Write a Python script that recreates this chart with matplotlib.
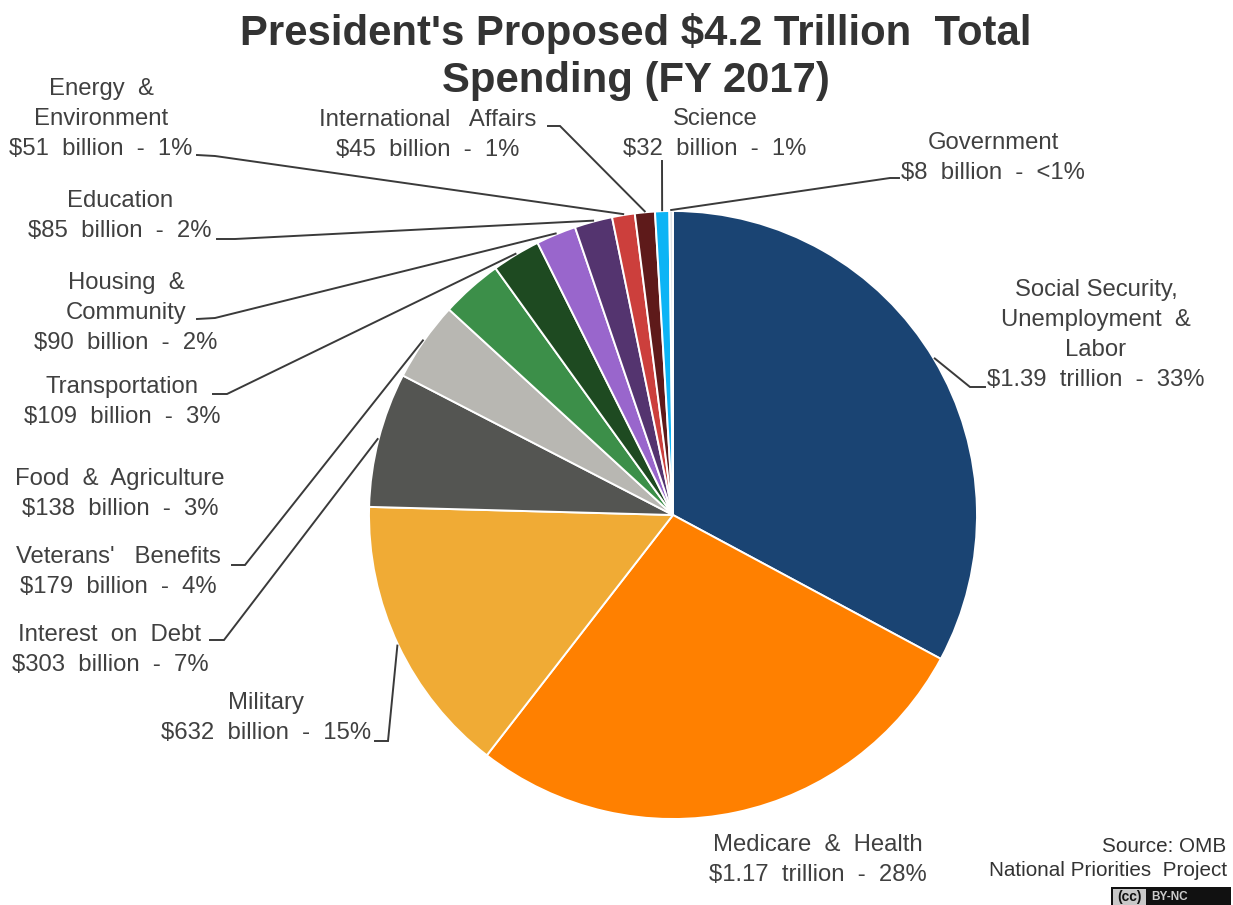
import math
import matplotlib
matplotlib.use("Agg")
import matplotlib.pyplot as plt
from matplotlib.patches import Rectangle

W, H = 1233, 905

# budget categories, billions of dollars, clockwise from the top
categories = ["Social Security", "Medicare", "Military", "Interest", "Veterans",
              "Food", "Transportation", "Housing", "Education", "Energy",
              "International", "Science", "Government"]
spending = [1390, 1170, 632, 303, 179, 138, 109, 90, 85, 51, 45, 32, 8]
colors = ["#1a4473", "#ff8000", "#f0ab35", "#545552", "#b8b7b2", "#3c8f49", "#1e4a21",
          "#9966cc", "#54346f", "#cc3f3c", "#5e1a1a", "#0db4f5", "#dfe3e8"]
labels = [
    "Social Security,\nUnemployment  &\nLabor\n$1.39  trillion  -  33%",
    "Medicare  &  Health\n$1.17  trillion  -  28%",
    "Military\n$632  billion  -  15%",
    "Interest  on  Debt\n$303  billion  -  7%",
    "Veterans'   Benefits\n$179  billion  -  4%",
    "Food  &  Agriculture\n$138  billion  -  3%",
    "Transportation\n$109  billion  -  3%",
    "Housing  &\nCommunity\n$90  billion  -  2%",
    "Education\n$85  billion  -  2%",
    "Energy  &\nEnvironment\n$51  billion  -  1%",
    "International   Affairs\n$45  billion  -  1%",
    "Science\n$32  billion  -  1%",
    "Government\n$8  billion  -  <1%",
]
title = "President's Proposed $4.2 Trillion  Total\nSpending (FY 2017)"

# label centres in pixels, y measured from the top
label_pos = [(1096, 335), (818, 860), (266, 718), (110, 650), (118, 572), (120, 494),
             (122, 402), (126, 313), (120, 216), (101, 119), (428, 135), (715, 134), (993, 158)]
# elbow of each leader line (start, bend), None where the label sits by itself
leaders = [((985, 387), (970, 387)), None, ((375, 741), (388, 741)), ((210, 640), (224, 640)),
           ((232, 565), (245, 565)), None, ((213, 394), (227, 394)), ((197, 319), (215, 318)),
           ((217, 239), (235, 239)), ((197, 155), (215, 156)), ((548, 126), (560, 126)),
           ((662, 161), (662, 161)), ((899, 178), (890, 178))]

plt.rcParams["font.family"] = ["Liberation Sans", "DejaVu Sans"]
text_color = "#404040"

fig = plt.figure(figsize=(W / 100, H / 100), dpi=100, facecolor="white")
ax = fig.add_axes([0, 0, 1, 1])

cx, cy, radius = 673, 515, 304
ax.pie(spending, colors=colors, startangle=90, counterclock=False, radius=radius,
       center=(cx, H - cy), wedgeprops={"edgecolor": "white", "linewidth": 1.4})
ax.set_xlim(0, W)
ax.set_ylim(0, H)
ax.set_aspect("equal")
ax.axis("off")

total = sum(spending)
swept = 0
for i, value in enumerate(spending):
    x, y = label_pos[i]
    ax.text(x, H - y, labels[i], ha="center", va="center", fontsize=17.2,
            color=text_color, linespacing=1.47)
    if leaders[i]:
        # leader lines meet the rim at the middle of the slice
        a = 2 * math.pi * (swept + value / 2) / total
        rim_x = cx + (radius + 1) * math.sin(a)
        rim_y = cy - (radius + 1) * math.cos(a)
        p0, p1 = leaders[i]
        ax.plot([p0[0], p1[0], rim_x], [H - p0[1], H - p1[1], H - rim_y],
                color="#3a3a3a", lw=1.4, solid_joinstyle="miter")
    swept += value

ax.text(636, H - 57, title, ha="center", va="center", fontsize=30.2, fontweight="bold",
        color="#333333", linespacing=1.25)

ax.text(1226, H - 847, "Source: OMB", ha="right", va="center", fontsize=14.9, color="#333333")
ax.text(1227, H - 871, "National Priorities  Project", ha="right", va="center",
        fontsize=14.9, color="#333333")

# licence badge in the corner
ax.add_patch(Rectangle((1111, 0), 120, 18, facecolor="#111111", edgecolor="none"))
ax.add_patch(Rectangle((1113, 0), 33, 16, facecolor="#c8c8c8", edgecolor="none"))
ax.text(1129, 8, "(cc)", ha="center", va="center", fontsize=10, fontweight="bold", color="#111111")
ax.text(1170, 8, "BY-NC", ha="center", va="center", fontsize=8.5, fontweight="bold", color="#cccccc")

fig.savefig("out.png", dpi=100)
